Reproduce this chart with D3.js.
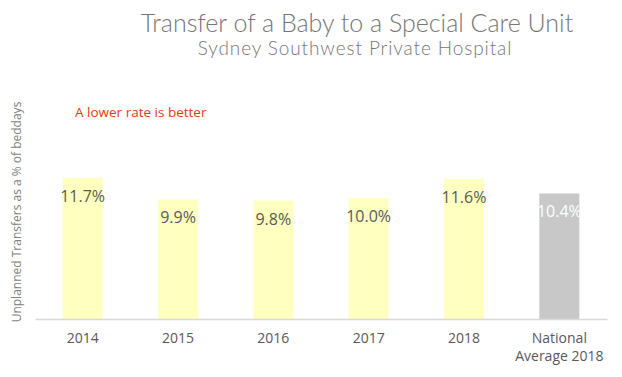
<!DOCTYPE html>
<html>
<head>
<meta charset="utf-8">
<script src="https://cdn.jsdelivr.net/npm/d3@7"></script>
<style>
  body { margin: 0; background: #fff; }
  text { font-family: "Open Sans", "Liberation Sans", sans-serif; }
</style>
</head>
<body>
<div id="chart"></div>
<script>
// data
var categories = ["2014", "2015", "2016", "2017", "2018", "National Average 2018"];
var rates = [11.7, 9.9, 9.8, 10.0, 11.6, 10.4];
var isNational = [false, false, false, false, false, true];

var W = 622, H = 377;
var margin = { top: 150, right: 15, bottom: 58, left: 35 },
    width = W - margin.left - margin.right,
    height = H - margin.top - margin.bottom;

var svg = d3.select("#chart").append("svg")
    .attr("width", W)
    .attr("height", H);

// titles
svg.append("text")
    .attr("x", 357).attr("y", 32)
    .attr("text-anchor", "middle")
    .style("font-family", "Lato, sans-serif")
    .style("font-weight", 300)
    .style("font-size", "25px")
    .style("fill", "#767676")
    .text("Transfer of a Baby to a Special Care Unit");

svg.append("text")
    .attr("x", 355).attr("y", 55)
    .attr("text-anchor", "middle")
    .style("font-family", "Lato, sans-serif")
    .style("font-weight", 300)
    .style("font-size", "19px")
    .style("letter-spacing", "0.9px")
    .style("fill", "#767676")
    .text("Sydney Southwest Private Hospital");

var g = svg.append("g")
    .attr("transform", "translate(" + margin.left + "," + margin.top + ")");

var x = d3.scaleBand()
    .domain(categories)
    .range([0, width])
    .paddingInner(0.58)
    .paddingOuter(0.29);

var y = d3.scaleLinear()
    .domain([0, 14])
    .range([height, 0]);

// bars
g.selectAll("rect.bar")
    .data(rates)
    .enter().append("rect")
    .attr("class", "bar")
    .attr("x", function(d, i) { return x(categories[i]); })
    .attr("y", function(d) { return y(d); })
    .attr("width", x.bandwidth())
    .attr("height", function(d) { return height - y(d); })
    .style("fill", function(d, i) { return isNational[i] ? "#c8c8c8" : "#ffffc0"; });

// value labels
g.selectAll("text.val")
    .data(rates)
    .enter().append("text")
    .attr("class", "val")
    .attr("x", function(d, i) { return x(categories[i]) + x.bandwidth() / 2; })
    .attr("y", function(d) { return y(d) + 24; })
    .attr("text-anchor", "middle")
    .style("font-size", "16px")
    .style("fill", function(d, i) { return isNational[i] ? "#ffffff" : "#595959"; })
    .text(function(d) { return d.toFixed(1) + "%"; });

// x axis
var xAxis = g.append("g")
    .attr("transform", "translate(0," + height + ")")
    .call(d3.axisBottom(x).tickSize(0).tickPadding(14));
xAxis.select(".domain").attr("stroke", "#d9d9d9").attr("stroke-width", 1.3);
xAxis.selectAll(".tick text")
    .style("font-family", "'Open Sans', sans-serif")
    .style("font-size", "14px")
    .style("fill", "#595959")
    .each(function(d) {
        var t = d3.select(this);
        if (d.indexOf("National") === 0) {
            t.text(null);
            t.append("tspan").attr("x", 0).attr("dy", "0.71em").text("National");
            t.append("tspan").attr("x", 0).attr("dy", "1.3em").text("Average 2018");
            t.attr("dy", null);
        }
    });

// y axis label
svg.append("text")
    .attr("transform", "rotate(-90)")
    .attr("x", -212)
    .attr("y", 21)
    .attr("text-anchor", "middle")
    .style("font-size", "12px")
    .style("fill", "#7f7f7f")
    .text("Unplanned Transfers as a % of beddays");

// note
svg.append("text")
    .attr("x", 75).attr("y", 117)
    .style("font-size", "13.5px")
    .style("fill", "#e03c0a")
    .text("A lower rate is better");
</script>
</body>
</html>
